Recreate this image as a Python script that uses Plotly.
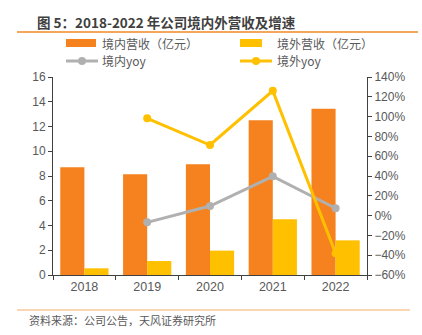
import plotly.graph_objects as go

years = ["2018", "2019", "2020", "2021", "2022"]
dom_rev = [8.70, 8.14, 8.94, 12.50, 13.44]
ovs_rev = [0.54, 1.13, 1.97, 4.50, 2.80]
dom_yoy = [None, -6.8, 9.7, 39.7, 7.4]
ovs_yoy = [None, 98.3, 71.3, 126.0, -38.0]

ORANGE = "#F5821F"
YELLOW = "#FFC000"
GRAY = "#B0B0B0"
TXT = "#595959"
FONT = "Liberation Sans, Noto Sans CJK SC, sans-serif"
CJK = "Noto Sans CJK SC, sans-serif"

W, H = 422, 335
L, R, T, B = 53, 55, 77, 60
PW, PH = W - L - R, H - T - B


def px(x):
    return (x - L) / PW


def py(y):
    return (H - B - y) / PH


fig = go.Figure()
fig.add_trace(go.Bar(x=years, y=dom_rev, name="境内营收（亿元）", marker_color=ORANGE,
                     marker_line_width=0, showlegend=False))
fig.add_trace(go.Bar(x=years, y=ovs_rev, name="境外营收（亿元）", marker_color=YELLOW,
                     marker_line_width=0, showlegend=False))
fig.add_trace(go.Scatter(x=years, y=dom_yoy, name="境内yoy", yaxis="y2", mode="lines+markers",
                         line=dict(color=GRAY, width=3), marker=dict(size=8, color=GRAY),
                         showlegend=False))
fig.add_trace(go.Scatter(x=years, y=ovs_yoy, name="境外yoy", yaxis="y2", mode="lines+markers",
                         line=dict(color=YELLOW, width=3), marker=dict(size=8, color=YELLOW),
                         showlegend=False))

shapes = []
annotations = []

# title and rules
annotations.append(dict(text="<b>图 5：2018-2022 年公司境内外营收及增速</b>", x=px(35), y=py(22),
                        xref="paper", yref="paper", xanchor="left", yanchor="middle", showarrow=False,
                        font=dict(family=CJK, size=13.5, color="#404040")))
shapes.append(dict(type="line", xref="paper", yref="paper", x0=px(17), x1=px(418), y0=py(32), y1=py(32),
                   line=dict(color="#F08A24", width=1.5)))
shapes.append(dict(type="line", xref="paper", yref="paper", x0=px(17), x1=px(410), y0=py(310), y1=py(310),
                   line=dict(color="#F9C89C", width=1.5)))
annotations.append(dict(text="资料来源：公司公告，天风证券研究所", x=px(27), y=py(320),
                        xref="paper", yref="paper", xanchor="left", yanchor="middle", showarrow=False,
                        font=dict(family=CJK, size=11, color=TXT)))

# legend (manual)
leg = [
    ("bar", ORANGE, 66, 96, 43, "境内营收（亿元）", 100),
    ("bar", YELLOW, 240, 262, 43, "境外营收（亿元）", 275),
    ("line", GRAY, 66, 98, 61, "境内yoy", 100),
    ("line", YELLOW, 240, 272, 61, "境外yoy", 275),
]
for kind, col, x0, x1, yc, label, tx in leg:
    if kind == "bar":
        shapes.append(dict(type="rect", xref="paper", yref="paper", x0=px(x0), x1=px(x1),
                           y0=py(yc + 4), y1=py(yc - 4), fillcolor=col, line=dict(width=0)))
    else:
        shapes.append(dict(type="line", xref="paper", yref="paper", x0=px(x0), x1=px(x1),
                           y0=py(yc), y1=py(yc), line=dict(color=col, width=3)))
        xm = (x0 + x1) / 2
        shapes.append(dict(type="circle", xref="paper", yref="paper", x0=px(xm - 4), x1=px(xm + 4),
                           y0=py(yc + 4), y1=py(yc - 4), fillcolor=col, line=dict(width=0)))
    annotations.append(dict(text=label, x=px(tx), y=py(yc), xref="paper", yref="paper",
                            xanchor="left", yanchor="middle", showarrow=False,
                            font=dict(family=CJK, size=12, color=TXT)))

fig.update_layout(
    width=W, height=H,
    margin=dict(l=L, r=R, t=T, b=B, pad=0),
    paper_bgcolor="white", plot_bgcolor="white",
    barmode="group", bargap=0.232, bargroupgap=0,
    font=dict(family=FONT, size=12, color=TXT),
    showlegend=False,
    xaxis=dict(type="category", showline=True, linecolor="#404040", linewidth=1,
               ticks="outside", ticklen=4, tickcolor="#404040", tickson="boundaries",
               tickfont=dict(size=12.5, color=TXT), showgrid=False, zeroline=False),
    yaxis=dict(range=[0, 16], dtick=2, showline=True, linecolor="#404040", linewidth=1,
               ticks="outside", ticklen=4, tickcolor="#404040", showgrid=False, zeroline=False,
               tickfont=dict(size=12, color=TXT)),
    yaxis2=dict(range=[-60, 140], dtick=20, overlaying="y", side="right", ticksuffix="%",
                showline=True, linecolor="#404040", linewidth=1, ticks="outside", ticklen=4,
                tickcolor="#404040", showgrid=False, zeroline=False,
                tickfont=dict(size=12, color=TXT)),
    shapes=shapes, annotations=annotations,
)

fig.write_html("out.html")
